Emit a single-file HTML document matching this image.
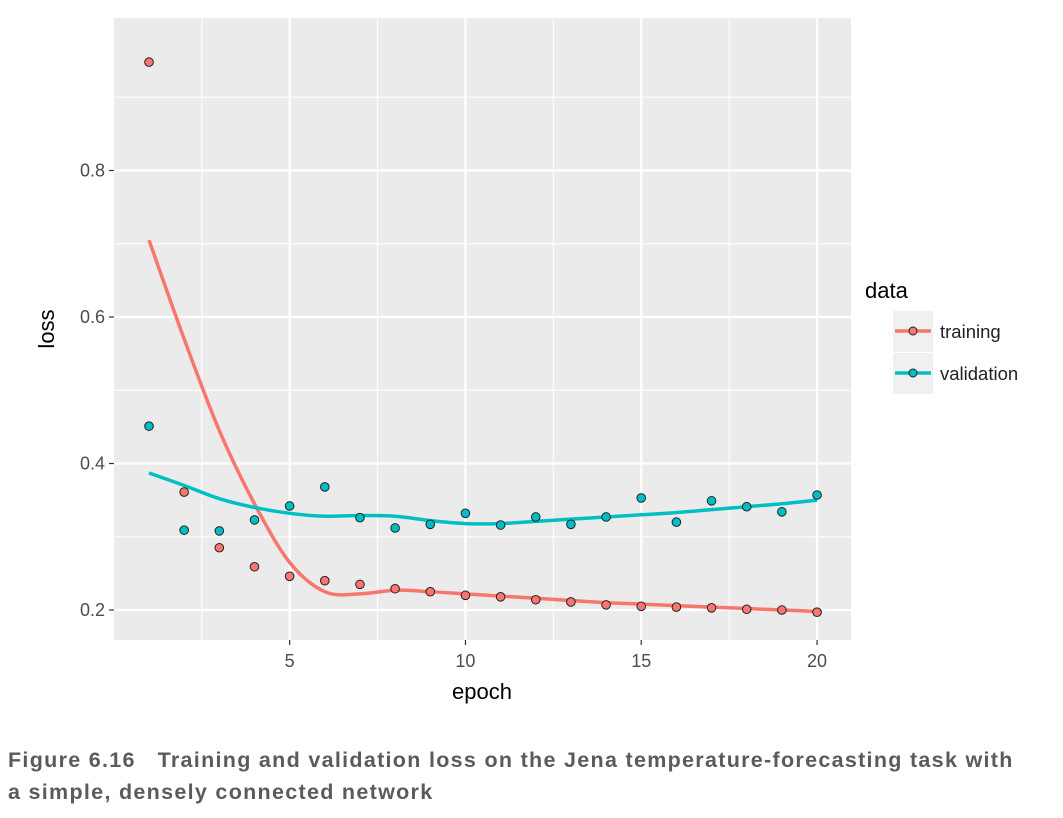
<!DOCTYPE html>
<html><head><meta charset="utf-8"><style>
body{margin:0;background:#fff;width:1063px;height:818px;overflow:hidden;font-family:"Liberation Sans",sans-serif}
.cap{position:absolute;left:8px;top:744px;font-weight:bold;font-size:21.5px;color:#5b5b5b;line-height:32px;letter-spacing:1.3px;white-space:nowrap}
</style></head><body>
<svg id="chart" width="1063" height="730" style="position:absolute;left:0;top:0">
<rect x="114" y="18" width="737" height="622" fill="#ebebeb"/>
<g id="grid"></g><g id="marks"></g><g id="axes"></g>
<text x="482" y="699" font-size="22" fill="#000" text-anchor="middle" font-family="Liberation Sans">epoch</text>
<text transform="translate(54,329) rotate(-90)" font-size="22" fill="#000" text-anchor="middle" font-family="Liberation Sans">loss</text>
<g font-family="Liberation Sans">
<text x="865" y="298" font-size="22" fill="#000">data</text>
<rect x="893" y="311" width="40" height="41" fill="#f0f0f0"/>
<rect x="893" y="353" width="40" height="41" fill="#f0f0f0"/>
<g><line x1="895" y1="331" x2="931" y2="331" stroke="#f8766d" stroke-width="3.5"/><circle cx="913" cy="331" r="4" fill="#f8766d" stroke="#222" stroke-width="1"/><text x="940" y="338" font-size="18.5" fill="#222">training</text></g>
<g><line x1="895" y1="373" x2="931" y2="373" stroke="#00bfc4" stroke-width="3.5"/><circle cx="913" cy="373" r="4" fill="#00bfc4" stroke="#222" stroke-width="1"/><text x="940" y="380" font-size="18.5" fill="#222">validation</text></g>
</g>
</svg>
<div class="cap">Figure 6.16&nbsp;&nbsp;&nbsp;Training and validation loss on the Jena temperature-forecasting task with<br>a simple, densely connected network</div>
<script>
const epochs=[1,2,3,4,5,6,7,8,9,10,11,12,13,14,15,16,17,18,19,20];
const trainLoss=[0.948,0.361,0.285,0.259,0.246,0.240,0.235,0.229,0.225,0.220,0.218,0.214,0.211,0.207,0.205,0.204,0.203,0.201,0.200,0.197];
const valLoss=[0.451,0.309,0.308,0.323,0.342,0.368,0.326,0.312,0.317,0.332,0.316,0.327,0.317,0.327,0.353,0.320,0.349,0.341,0.334,0.357];
const trainSmooth=[0.705,0.57,0.445,0.345,0.265,0.225,0.222,0.227,0.225,0.222,0.219,0.216,0.213,0.210,0.208,0.206,0.204,0.202,0.200,0.198];
const valSmooth=[0.387,0.37,0.352,0.34,0.332,0.328,0.329,0.328,0.322,0.318,0.318,0.321,0.324,0.327,0.330,0.333,0.337,0.341,0.345,0.350];
const xTicks=[5,10,15,20];
const xMinor=[2.5,7.5,12.5,17.5];
const yTicks=[0.2,0.4,0.6,0.8];
const yTickLabels=["0.2","0.4","0.6","0.8"];
const yMinor=[0.3,0.5,0.7,0.9];
const NS="http://www.w3.org/2000/svg";
const X=e=>149+(e-1)*35.16;
const Y=v=>610-(v-0.2)*732.5;
function mk(tag,attrs,parent){const el=document.createElementNS(NS,tag);for(const k in attrs)el.setAttribute(k,attrs[k]);parent.appendChild(el);return el;}
const grid=document.getElementById('grid'),marks=document.getElementById('marks'),axes=document.getElementById('axes');
xMinor.forEach(v=>{const l=mk('line',{x1:X(v),x2:X(v),y1:18,y2:640,stroke:'#fff','stroke-width':1},grid);

});
yMinor.forEach(v=>{const l=mk('line',{x1:114,x2:851,y1:Y(v),y2:Y(v),stroke:'#fff','stroke-width':1},grid);

});
xTicks.forEach(v=>{const l=mk('line',{x1:X(v),x2:X(v),y1:18,y2:640,stroke:'#fff','stroke-width':2.2},grid);


mk('line',{x1:X(v),x2:X(v),y1:640,y2:645,stroke:'#333','stroke-width':1.2},axes);
const t=mk('text',{x:X(v),y:667,'font-size':18,fill:'#4d4d4d','text-anchor':'middle','font-family':'Liberation Sans'},axes);t.textContent=v;

});
yTicks.forEach((v,i)=>{const l=mk('line',{x1:114,x2:851,y1:Y(v),y2:Y(v),stroke:'#fff','stroke-width':2.2},grid);


mk('line',{x1:109,x2:114,y1:Y(v),y2:Y(v),stroke:'#333','stroke-width':1.2},axes);
const t=mk('text',{x:105,y:Y(v)+6,'font-size':18,fill:'#4d4d4d','text-anchor':'end','font-family':'Liberation Sans'},axes);t.textContent=yTickLabels[i];

});
function smoothPath(vals){const p=epochs.map((e,i)=>[X(e),Y(vals[i])]);let d='M'+p[0][0]+','+p[0][1];
for(let i=0;i<p.length-1;i++){const p0=p[Math.max(0,i-1)],p1=p[i],p2=p[i+1],p3=p[Math.min(p.length-1,i+2)];
d+=' C'+(p1[0]+(p2[0]-p0[0])/6)+','+(p1[1]+(p2[1]-p0[1])/6)+' '+(p2[0]-(p3[0]-p1[0])/6)+','+(p2[1]-(p3[1]-p1[1])/6)+' '+p2[0]+','+p2[1];}return d;}
const lt=mk('path',{d:smoothPath(trainSmooth),fill:'none',stroke:'#f8766d','stroke-width':3.5},marks);


const lv=mk('path',{d:smoothPath(valSmooth),fill:'none',stroke:'#00bfc4','stroke-width':3.5},marks);


epochs.forEach((e,i)=>{const c=mk('circle',{cx:X(e),cy:Y(trainLoss[i]),r:4.3,fill:'#f8766d',stroke:'#222','stroke-width':1},marks);


const c2=mk('circle',{cx:X(e),cy:Y(valLoss[i]),r:4.3,fill:'#00bfc4',stroke:'#222','stroke-width':1},marks);

});
</script>
</body></html>
